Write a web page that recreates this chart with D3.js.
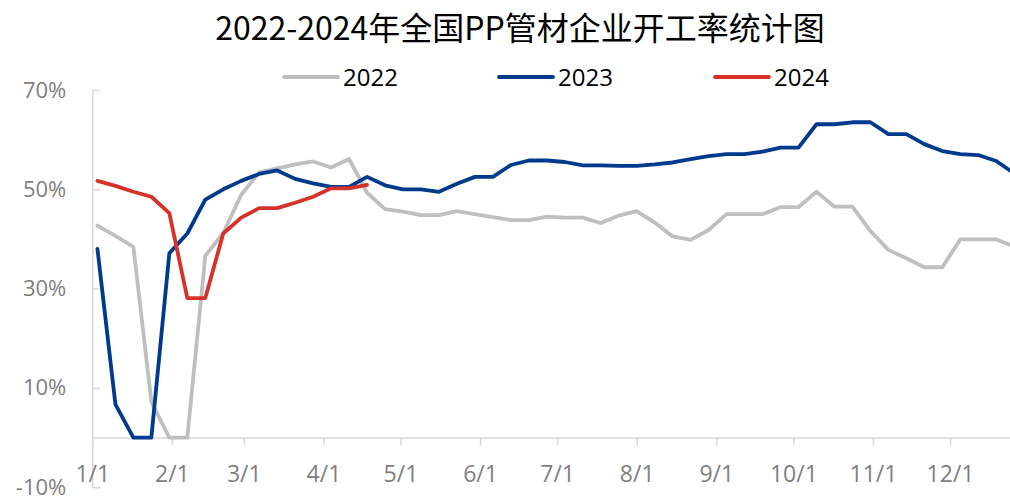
<!DOCTYPE html>
<html>
<head>
<meta charset="utf-8">
<script src="https://cdn.jsdelivr.net/npm/d3@7"></script>
<style>
	html, body { margin: 0; padding: 0; background: #fff; }
	svg { display: block; }
</style>
</head>
<body>
<svg id="rateChart" width="1010" height="497"></svg>
<script>
//=============== 数据 =======================================
// 每周数据日期（月-日）
const weekDates = [
	"01-03", "01-10", "01-17", "01-24", "01-31", "02-07", "02-14", "02-21", "02-28",
	"03-07", "03-14", "03-21", "03-28", "04-04", "04-11", "04-18", "04-25",
	"05-02", "05-09", "05-16", "05-23", "05-30", "06-06", "06-13", "06-20", "06-27",
	"07-04", "07-11", "07-18", "07-25", "08-01", "08-08", "08-15", "08-22", "08-29",
	"09-05", "09-12", "09-19", "09-26", "10-03", "10-10", "10-17", "10-24", "10-31",
	"11-07", "11-14", "11-21", "11-28", "12-05", "12-12", "12-19", "12-26"
];

const rate2022 = [
	42.7, 40.6, 38.4, 7.2, 0, 0, 36.6, 41.2, 48.9, 53.4, 54.2, 55.0, 55.6, 54.4, 56.1, 49.3, 46.0,
	45.5, 44.8, 44.8, 45.6, 45.0, 44.4, 43.8, 43.8, 44.5, 44.3, 44.3, 43.2, 44.7, 45.6, 43.3, 40.5,
	39.8, 41.8, 45.0, 45.0, 45.0, 46.4, 46.4, 49.5, 46.5, 46.5, 41.6, 37.8, 36.1, 34.3, 34.3,
	39.9, 39.9, 39.9, 38.5
];

const rate2023 = [
	38.0, 6.7, 0, 0, 37.1, 41.1, 47.9, 50.0, 51.7, 53.1, 53.8, 52.1, 51.2, 50.5, 50.5, 52.5, 50.8,
	50.0, 50.0, 49.5, 51.1, 52.5, 52.5, 54.9, 55.8, 55.8, 55.5, 54.8, 54.8, 54.7, 54.7, 55.0, 55.4,
	56.1, 56.7, 57.1, 57.1, 57.6, 58.4, 58.4, 63.1, 63.1, 63.5, 63.5, 61.1, 61.1, 59.1, 57.7,
	57.1, 56.9, 55.7, 53.2
];

const rate2024 = [
	51.7, 50.7, 49.5, 48.5, 45.2, 28.1, 28.1, 41.1, 44.3, 46.2, 46.2, 47.3, 48.5, 50.2, 50.2, 50.9
];

const seriesNames = ["2022", "2023", "2024"];
const seriesColors = ["#bfbfbf", "#003a8c", "#d7322a"];

const xTickLabels = ["1/1", "2/1", "3/1", "4/1", "5/1", "6/1", "7/1", "8/1", "9/1", "10/1", "11/1", "12/1"];
const yTicks = [-10, 10, 30, 50, 70];

const chartTitle = "2022-2024年全国PP管材企业开工率统计图";

//=============== 折线图 =======================================
function drawRateChart() {
	const svg = d3.select("#rateChart");
	svg.selectAll("*").remove();

	const baseYear = 2023;
	const toDate = s => new Date(baseYear, +s.split("-")[0] - 1, +s.split("-")[1]);
	const dayWidth = 2.568;

	// X轴: 日期 (图右侧被裁掉)
	const x = d3.scaleTime()
		.domain([new Date(baseYear, 0, 1), new Date(baseYear, 11, 31)])
		.range([92.3, 92.3 + 364 * dayWidth]);

	// Y轴: 百分比
	const y = d3.scaleLinear()
		.domain([-10, 70])
		.range([487.2, 90]);

	const labelFont = "'Open Sans', 'Noto Sans', sans-serif";

	// Y轴
	const yAxis = svg.append("g")
		.attr("transform", `translate(${x.range()[0]},0)`)
		.call(d3.axisLeft(y).tickValues(yTicks).tickSize(-8).tickSizeOuter(0).tickPadding(26)
			.tickFormat(d => d + "%"));
	yAxis.select(".domain").attr("stroke", "#d9d9d9").attr("stroke-width", 1.5);
	yAxis.selectAll(".tick line").attr("stroke", "#d9d9d9").attr("stroke-width", 1.5);
	yAxis.selectAll("text")
		.style("font-family", labelFont)
		.style("font-size", "22px")
		.style("fill", "#7f7f7f");

	// X轴 (位于0%处)
	const xTickDates = xTickLabels.map(s => new Date(baseYear, +s.split("/")[0] - 1, +s.split("/")[1]));
	const xAxis = svg.append("g")
		.attr("transform", `translate(0,${y(0)})`)
		.call(d3.axisBottom(x).tickValues(xTickDates).tickSize(8).tickSizeOuter(0).tickPadding(20)
			.tickFormat((d, i) => xTickLabels[i]));
	xAxis.select(".domain").attr("stroke", "#d9d9d9").attr("stroke-width", 1.5);
	xAxis.selectAll(".tick line").attr("stroke", "#d9d9d9").attr("stroke-width", 1.5);
	xAxis.selectAll("text")
		.style("font-family", labelFont)
		.style("font-size", "23px")
		.style("fill", "#7f7f7f");

	// 折线
	const line = d3.line()
		.x(d => x(d.date))
		.y(d => y(d.value));

	const allSeries = [rate2022, rate2023, rate2024].map((vals, i) => ({
		name: seriesNames[i],
		color: seriesColors[i],
		points: vals.map((v, j) => ({ date: toDate(weekDates[j]), value: v }))
	}));

	svg.append("g").selectAll("path")
		.data(allSeries)
		.enter()
		.append("path")
		.attr("d", d => line(d.points))
		.attr("fill", "none")
		.attr("stroke", d => d.color)
		.attr("stroke-width", 3.8)
		.attr("stroke-linejoin", "round")
		.attr("stroke-linecap", "round");

	// 标题
	svg.append("text")
		.attr("x", 520)
		.attr("y", 40)
		.attr("text-anchor", "middle")
		.style("font-family", "'Noto Sans CJK SC', sans-serif")
		.style("font-size", "32px")
		.style("fill", "#000")
		.text(chartTitle);

	// 图例
	const legendX = [284, 499, 715];
	const legend = svg.append("g").selectAll(".legend")
		.data(allSeries)
		.enter()
		.append("g")
		.attr("class", "legend")
		.attr("transform", (d, i) => `translate(${legendX[i]},77)`);

	legend.append("line")
		.attr("x1", 0)
		.attr("x2", 54)
		.attr("stroke", d => d.color)
		.attr("stroke-width", 3.8)
		.attr("stroke-linecap", "round");

	legend.append("text")
		.attr("x", 59)
		.attr("y", 9)
		.style("font-family", labelFont)
		.style("font-size", "24px")
		.style("fill", "#000")
		.text(d => d.name);
}

drawRateChart();
</script>
</body>
</html>
